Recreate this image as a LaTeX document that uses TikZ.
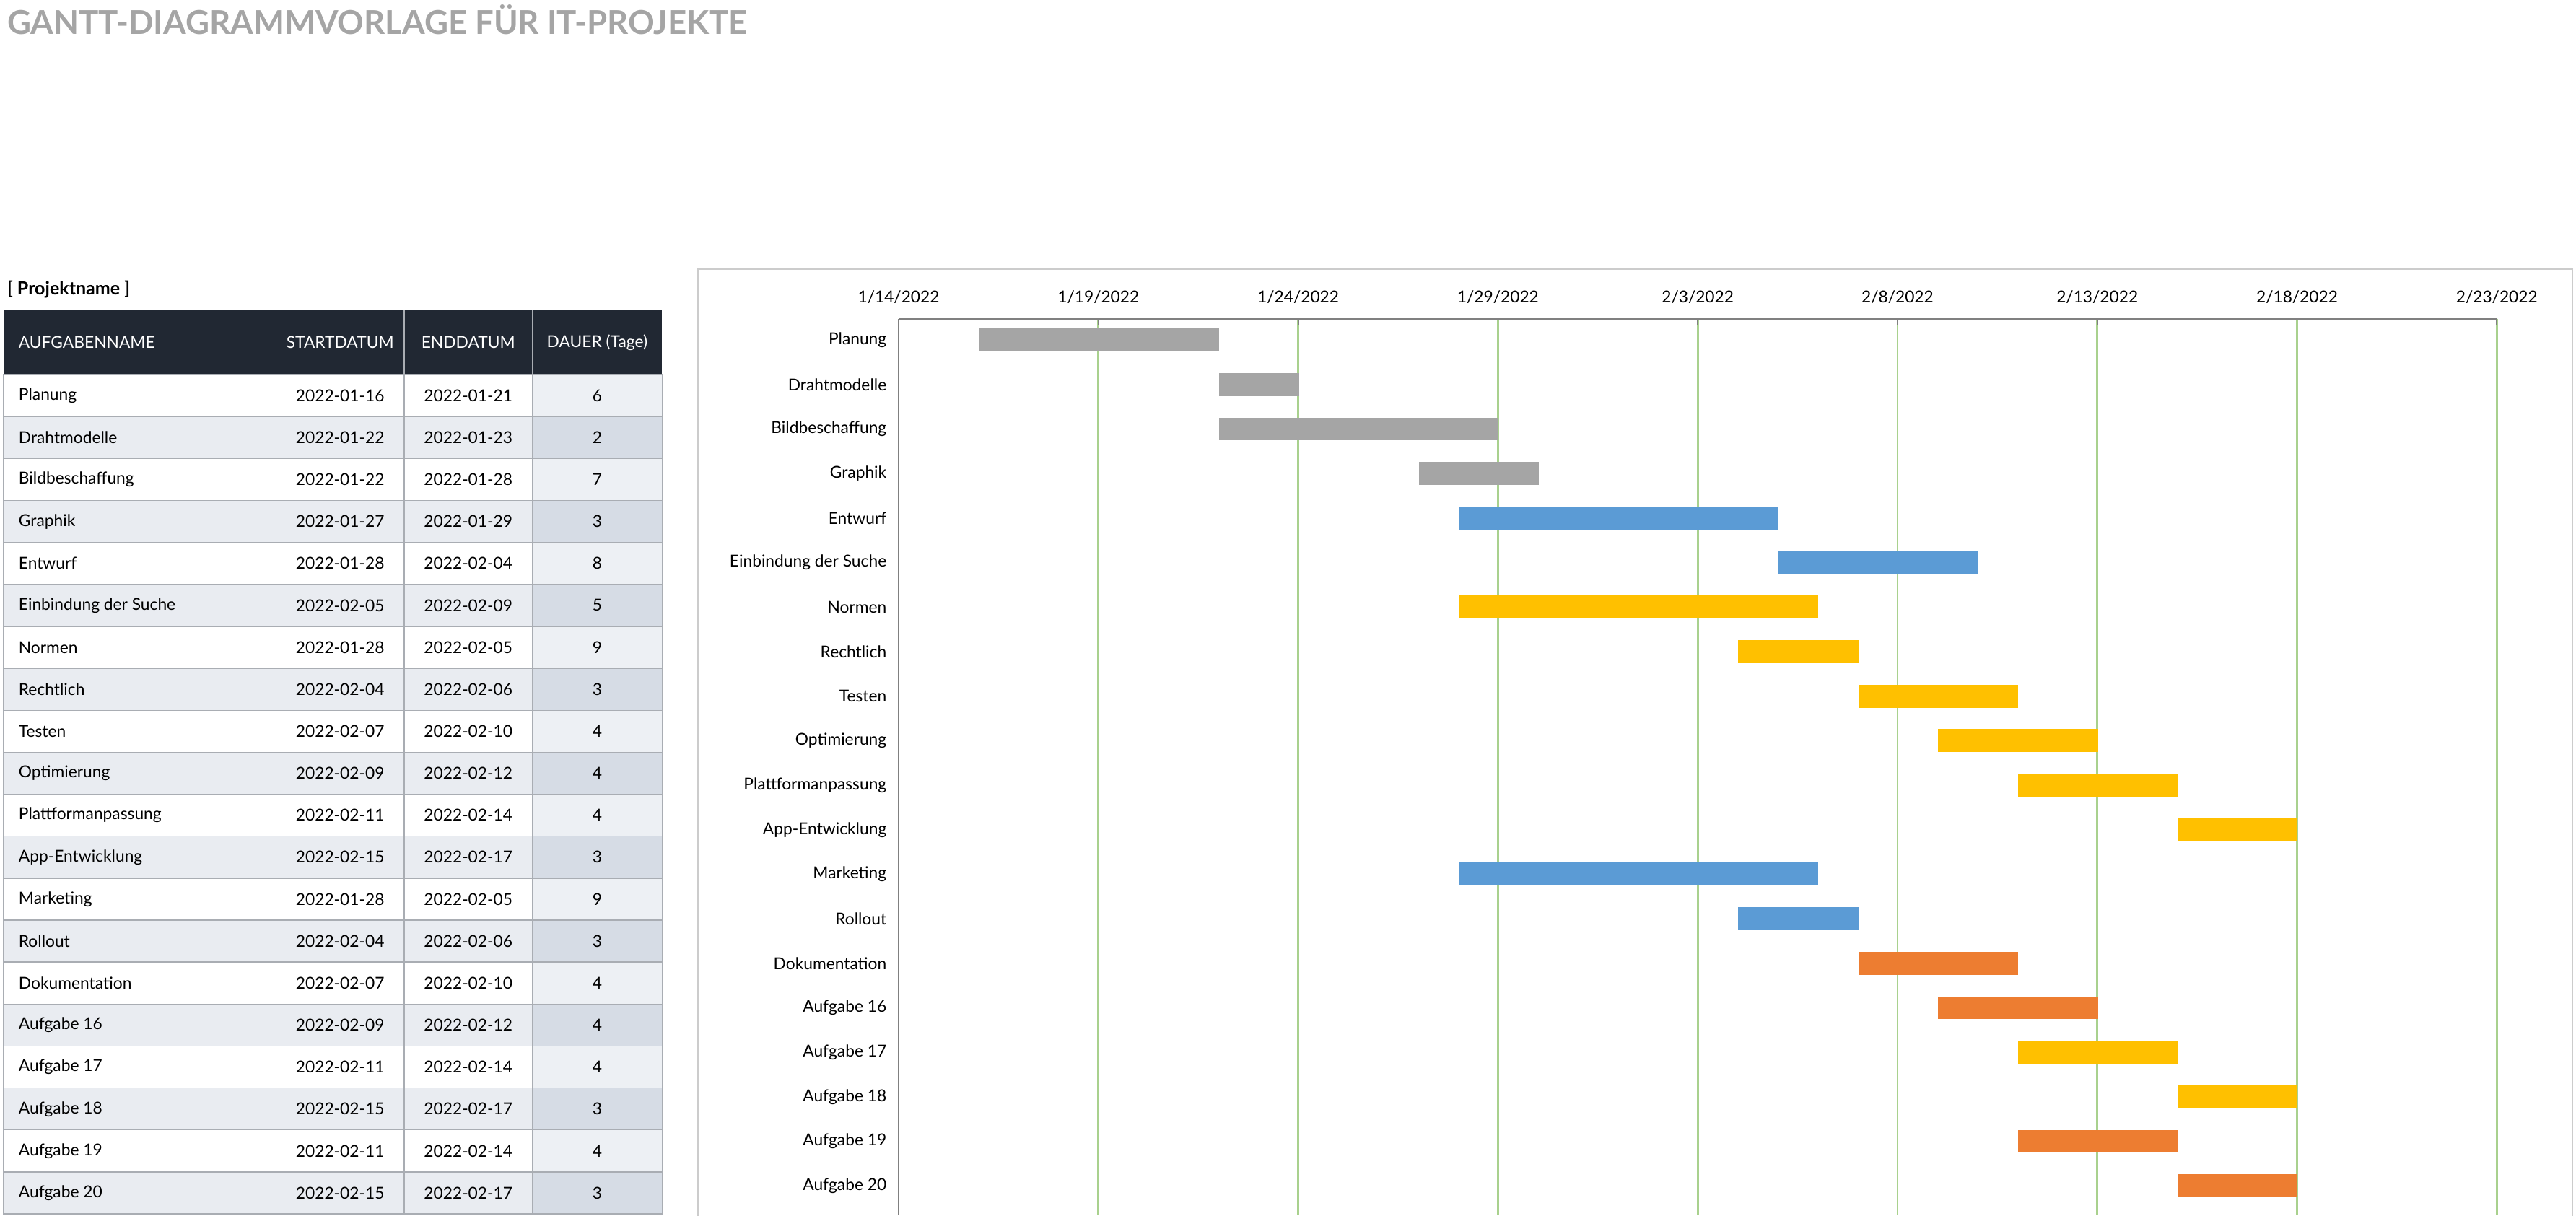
\documentclass[tikz,border=0pt]{standalone}
\usepackage{fontspec}
\setmainfont{Lato}
\definecolor{hdr}{HTML}{212833}
\definecolor{rowa}{HTML}{E9ECF1}
\definecolor{dura}{HTML}{EDF0F4}
\definecolor{durb}{HTML}{D6DCE5}
\definecolor{bord}{HTML}{A9ADB3}
\definecolor{grid}{HTML}{A9D18E}
\definecolor{cG}{HTML}{A5A5A5}
\definecolor{cB}{HTML}{5B9BD5}
\definecolor{cY}{HTML}{FFC000}
\definecolor{cO}{HTML}{ED7D31}
\tikzset{cell/.style={font=\fontsize{5}{6}\selectfont,inner sep=0pt},
 hcell/.style={cell,text=white},
 bar/.style={inner sep=0pt,minimum height=7pt,anchor=west}}
\begin{document}
\begin{tikzpicture}[x=0.5pt,y=-0.5pt]
\useasboundingbox (0,0) rectangle (1568,740);
\node[anchor=west,inner sep=0pt,text=cG,font=\fontsize{10}{12}\selectfont\bfseries] (title) at (4,12) {GANTT-DIAGRAMMVORLAGE FÜR IT-PROJEKTE};
\node[anchor=west,inner sep=0pt,font=\fontsize{5.5}{6}\selectfont\bfseries] (pn) at (4,176) {[ Projektname ]};
% header
\fill[hdr] (2,189) rectangle (403,228);
\draw[bord,line width=0.3pt] (168,189)--(168,228) (246,189)--(246,228) (324,189)--(324,228);
\node[hcell,anchor=west] (h1) at (11,208.5) {AUFGABENNAME};
\node[hcell] (h2) at (207,208.5) {STARTDATUM};
\node[hcell] (h3) at (285,208.5) {ENDDATUM};
\node[hcell] (h4) at (363.5,208.5) {DAUER (Tage)};
% chart frame
\draw[black!20,line width=0.4pt] (425,164) rectangle (1566,745);
\foreach \d [count=\k from 0] in {1/14/2022,1/19/2022,1/24/2022,1/29/2022,2/3/2022,2/8/2022,2/13/2022,2/18/2022,2/23/2022}{
  \pgfmathsetmacro\xx{547+121.6*\k}
  \ifnum\k>0 \draw[grid,line width=0.6pt] (\xx,194)--(\xx,740);\fi
  \draw[gray,line width=0.4pt] (\xx,194)--(\xx,198);
  \node[cell] (t\k) at (\xx,181) {\d};
}
\draw[gray,line width=0.5pt] (547,194)--(1520,194);
\draw[gray,line width=0.5pt] (547,194)--(547,740);
\foreach \n/\s/\e/\du/\o/\c [count=\i from 0] in {
Planung/2022-01-16/2022-01-21/6/2/cG,
Drahtmodelle/2022-01-22/2022-01-23/2/8/cG,
Bildbeschaffung/2022-01-22/2022-01-28/7/8/cG,
Graphik/2022-01-27/2022-01-29/3/13/cG,
Entwurf/2022-01-28/2022-02-04/8/14/cB,
Einbindung der Suche/2022-02-05/2022-02-09/5/22/cB,
Normen/2022-01-28/2022-02-05/9/14/cY,
Rechtlich/2022-02-04/2022-02-06/3/21/cY,
Testen/2022-02-07/2022-02-10/4/24/cY,
Optimierung/2022-02-09/2022-02-12/4/26/cY,
Plattformanpassung/2022-02-11/2022-02-14/4/28/cY,
App-Entwicklung/2022-02-15/2022-02-17/3/32/cY,
Marketing/2022-01-28/2022-02-05/9/14/cB,
Rollout/2022-02-04/2022-02-06/3/21/cB,
Dokumentation/2022-02-07/2022-02-10/4/24/cO,
Aufgabe 16/2022-02-09/2022-02-12/4/26/cO,
Aufgabe 17/2022-02-11/2022-02-14/4/28/cY,
Aufgabe 18/2022-02-15/2022-02-17/3/32/cY,
Aufgabe 19/2022-02-11/2022-02-14/4/28/cO,
Aufgabe 20/2022-02-15/2022-02-17/3/32/cO}{
  \pgfmathsetmacro\yt{228+25.55*\i}
  \pgfmathsetmacro\yb{\yt+25.55}
  \pgfmathsetmacro\ym{\yt+12.8}
  \ifodd\i
    \fill[rowa] (2,\yt) rectangle (324,\yb);
    \fill[durb] (324,\yt) rectangle (403,\yb);
  \else
    \fill[dura] (324,\yt) rectangle (403,\yb);
  \fi
  \draw[bord,line width=0.3pt] (2,\yt) rectangle (403,\yb) (168,\yt)--(168,\yb) (246,\yt)--(246,\yb) (324,\yt)--(324,\yb);
  \node[cell,anchor=west] (n\i) at (11,\ym) {\n};
  \node[cell] (s\i) at (207,\ym) {\s};
  \node[cell] (e\i) at (285,\ym) {\e};
  \node[cell] (d\i) at (363.5,\ym) {\du};
  \pgfmathsetmacro\yc{207+27.1*\i}
  \pgfmathsetmacro\xs{547+24.32*\o}
  \pgfmathsetmacro\w{24.32*\du*0.5}
  \node[cell,anchor=east] (l\i) at (540,\yc) {\n};
  \node[bar,fill=\c,minimum width=\w pt] (b\i) at (\xs,\yc) {};
}
\end{tikzpicture}
\end{document}
